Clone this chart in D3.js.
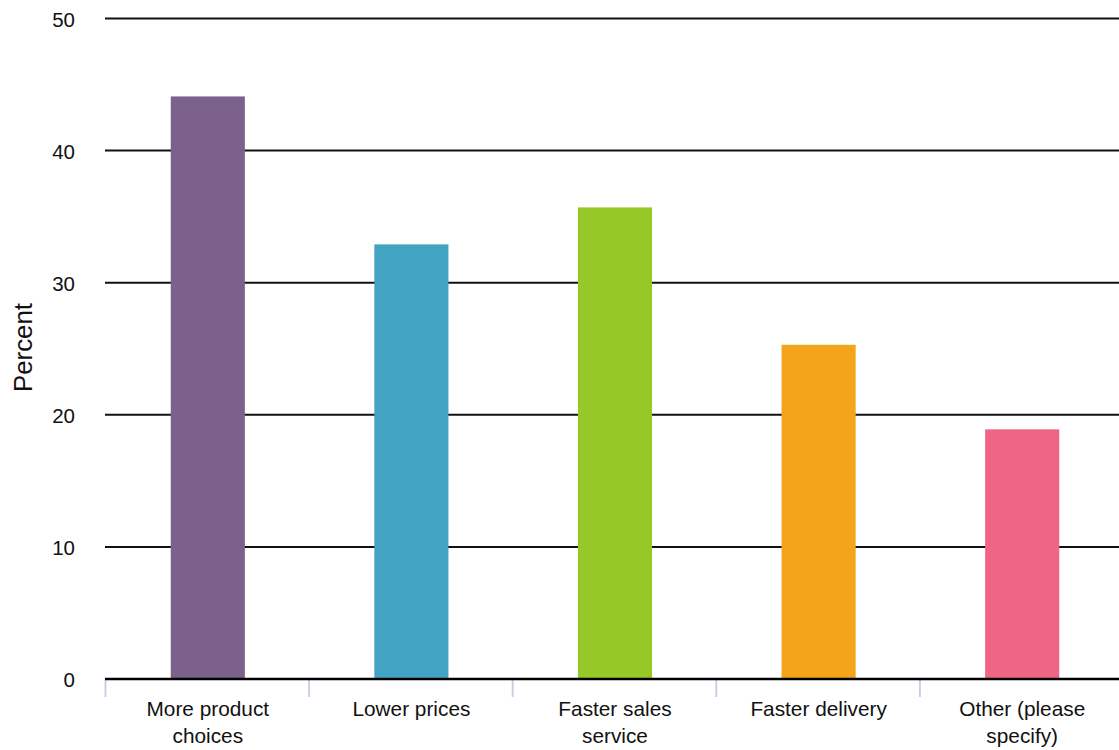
<!DOCTYPE html>
<html>
<head>
<meta charset="utf-8">
<script src="https://cdn.jsdelivr.net/npm/d3@7"></script>
<style>
  html, body { margin: 0; padding: 0; background: #fff; overflow: hidden; }
  svg { display: block; font-family: "Liberation Sans", Arial, Helvetica, sans-serif; }
</style>
</head>
<body>
<svg id="chart" width="1119" height="750"></svg>
<script>
// Survey responses: share of respondents choosing each improvement
const categories = [["More product", "choices"], ["Lower prices"], ["Faster sales", "service"], ["Faster delivery"], ["Other (please", "specify)"]];
const values = [44.1, 32.9, 35.7, 25.3, 18.9];
const colors = ["#7b618c", "#42a3c3", "#96c828", "#f4a41a", "#ef6585"];
const yTicks = [0, 10, 20, 30, 40, 50];

const svg = d3.select("#chart");
const margin = { top: 18.5, left: 105 };
const plotWidth = 1018;   // plot area runs slightly past the right edge of the canvas
const height = 679 - margin.top;

const g = svg.append("g").attr("transform", `translate(${margin.left},${margin.top})`);

const keys = categories.map(c => c.join(" "));
const x = d3.scaleBand().domain(keys).range([0, plotWidth]).paddingInner(0.636).paddingOuter(0.318);
const xCat = d3.scaleBand().domain(keys).range([0, plotWidth]);
const y = d3.scaleLinear().domain([0, 50]).range([height, 0]);

// horizontal gridlines
g.append("g")
  .selectAll("line")
  .data(yTicks.filter(t => t > 0))
  .join("line")
  .attr("x1", 0).attr("x2", plotWidth)
  .attr("y1", d => y(d)).attr("y2", d => y(d))
  .attr("stroke", "#111").attr("stroke-width", 2);

// y tick labels
g.append("g")
  .selectAll("text")
  .data(yTicks)
  .join("text")
  .attr("x", -30).attr("y", d => y(d))
  .attr("dy", "0.4em")
  .attr("text-anchor", "end")
  .attr("font-size", 20.5)
  .attr("fill", "#111")
  .text(d => d);

// bars
g.append("g")
  .selectAll("rect")
  .data(values)
  .join("rect")
  .attr("x", (d, i) => x(keys[i]) + 1)
  .attr("width", x.bandwidth())
  .attr("y", d => y(d))
  .attr("height", d => height - y(d))
  .attr("fill", (d, i) => colors[i]);

// category tick marks
g.append("g")
  .selectAll("line")
  .data(keys)
  .join("line")
  .attr("x1", d => xCat(d) + 0.5).attr("x2", d => xCat(d) + 0.5)
  .attr("y1", height).attr("y2", height + 18)
  .attr("stroke", "#c6d1e8").attr("stroke-width", 2);

// baseline
g.append("line")
  .attr("x1", 0).attr("x2", plotWidth)
  .attr("y1", y(0)).attr("y2", y(0))
  .attr("stroke", "#000").attr("stroke-width", 2.6);

// category labels
const labels = g.append("g")
  .selectAll("text")
  .data(categories)
  .join("text")
  .attr("text-anchor", "middle")
  .attr("font-size", 20.8)
  .attr("fill", "#111")
  .attr("transform", (d, i) => `translate(${xCat(keys[i]) + xCat.bandwidth() / 2 + 1},${height + 37})`);
labels.selectAll("tspan")
  .data(d => d)
  .join("tspan")
  .attr("x", 0)
  .attr("dy", (d, i) => i === 0 ? 0 : 27.3)
  .text(d => d);

// y axis title
svg.append("text")
  .attr("transform", `translate(32,347.5) rotate(-90)`)
  .attr("text-anchor", "middle")
  .attr("font-size", 25.8)
  .attr("fill", "#111")
  .text("Percent");
</script>
</body>
</html>
